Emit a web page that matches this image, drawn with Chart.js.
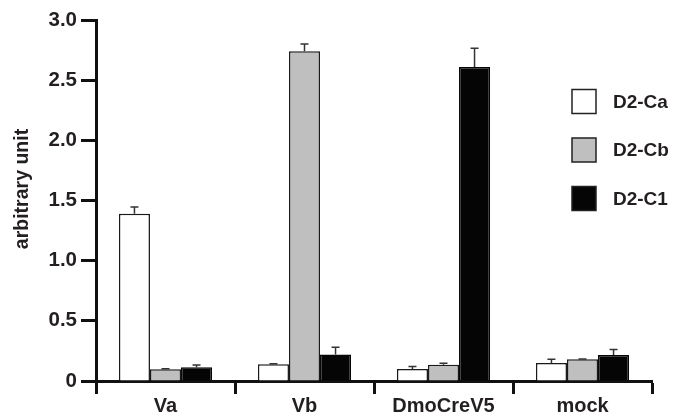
<!DOCTYPE html>
<html>
<head>
<meta charset="utf-8">
<script src="https://cdn.jsdelivr.net/npm/chart.js@4/dist/chart.umd.min.js"></script>
<style>
  html, body { margin: 0; padding: 0; background: #ffffff; }
  #wrap { width: 674px; height: 415px; position: relative; }
</style>
</head>
<body>
<div id="wrap"><canvas id="c" width="674" height="415"></canvas></div>
<script>
const categories = ['Va', 'Vb', 'DmoCreV5', 'mock'];
const seriesNames = ['D2-Ca', 'D2-Cb', 'D2-C1'];
const d2Ca = [1.39, 0.14, 0.10, 0.15];
const d2Cb = [0.097, 2.74, 0.135, 0.18];
const d2C1 = [0.114, 0.22, 2.61, 0.216];
const d2CaErr = [0.055, 0.003, 0.02, 0.03];
const d2CbErr = [0.005, 0.06, 0.012, 0.003];
const d2C1Err = [0.018, 0.06, 0.155, 0.045];
const yTickValues = [0, 0.5, 1.0, 1.5, 2.0, 2.5, 3.0];
const yTickLabels = ['0', '0.5', '1.0', '1.5', '2.0', '2.5', '3.0'];
const yTitle = 'arbitrary unit';

const FONT = '"Liberation Sans", Arial, Helvetica, sans-serif';
const TXT = '#231f20';

const errorBars = {
  id: 'errorBars',
  afterDatasetsDraw(chart) {
    const ctx = chart.ctx;
    const y = chart.scales.y;
    chart.data.datasets.forEach((ds, di) => {
      const meta = chart.getDatasetMeta(di);
      meta.data.forEach((bar, i) => {
        const top = y.getPixelForValue(ds.data[i] + ds.errors[i]);
        const base = bar.y;
        ctx.save();
        ctx.strokeStyle = '#333';
        ctx.lineWidth = 1.5;
        ctx.beginPath();
        ctx.moveTo(bar.x, base);
        ctx.lineTo(bar.x, top);
        ctx.moveTo(bar.x - 4, top);
        ctx.lineTo(bar.x + 4, top);
        ctx.stroke();
        ctx.restore();
      });
    });
  }
};

const customLegend = {
  id: 'customLegend',
  afterDraw(chart) {
    const ctx = chart.ctx;
    ctx.save();
    const x0 = 572, y0 = 89.5, size = 24, step = 48.5;
    chart.data.datasets.forEach((ds, i) => {
      const yy = y0 + i * step;
      ctx.fillStyle = ds.backgroundColor;
      ctx.fillRect(x0, yy, size, size);
      ctx.strokeStyle = '#222';
      ctx.lineWidth = 1.5;
      ctx.strokeRect(x0, yy, size, size);
      ctx.fillStyle = TXT;
      ctx.font = 'bold 19px ' + FONT;
      ctx.textBaseline = 'middle';
      ctx.textAlign = 'left';
      ctx.fillText(ds.label, 613, yy + size / 2 + 1);
    });
    // y axis title
    ctx.translate(23, 189);
    ctx.rotate(-Math.PI / 2);
    ctx.font = 'bold 19.5px ' + FONT;
    ctx.textAlign = 'center';
    ctx.textBaseline = 'middle';
    ctx.fillStyle = TXT;
    ctx.fillText(yTitle, 0, 0);
    ctx.restore();
  }
};

new Chart(document.getElementById('c'), {
  type: 'bar',
  data: {
    labels: categories,
    datasets: [
      { label: seriesNames[0], data: d2Ca, errors: d2CaErr, backgroundColor: '#ffffff', borderColor: '#1a1a1a', borderWidth: 1.5 },
      { label: seriesNames[1], data: d2Cb, errors: d2CbErr, backgroundColor: '#bfbfbf', borderColor: '#1a1a1a', borderWidth: 1.5 },
      { label: seriesNames[2], data: d2C1, errors: d2C1Err, backgroundColor: '#050505', borderColor: '#050505', borderWidth: 1.5 }
    ]
  },
  options: {
    responsive: false,
    animation: false,
    devicePixelRatio: 1,
    layout: { padding: { top: 20, right: 22, bottom: 0, left: 0 } },
    datasets: { bar: { categoryPercentage: 0.67, barPercentage: 1.0 } },
    plugins: { legend: { display: false }, tooltip: { enabled: false } },
    scales: {
      x: {
        offset: true,
        grid: { display: true, offset: true, drawOnChartArea: false, drawTicks: true, tickLength: 13, tickWidth: 3, tickColor: '#111' },
        border: { display: true, width: 3, color: '#111' },
        ticks: { color: TXT, font: { family: FONT, size: 20, weight: 'bold' }, padding: 0, maxRotation: 0 },
        afterFit(scale) { scale.height = 34; }
      },
      y: {
        min: 0, max: 3,
        afterBuildTicks(scale) { scale.ticks = yTickValues.map(v => ({ value: v })); },
        grid: { display: true, drawOnChartArea: false, drawTicks: true, tickLength: 15, tickWidth: 3, tickColor: '#111' },
        border: { display: true, width: 3, color: '#111' },
        ticks: {
          color: TXT, padding: 4,
          font: { family: FONT, size: 20.5, weight: 'bold' },
          callback(value) { const k = yTickValues.indexOf(value); return k >= 0 ? yTickLabels[k] : ''; }
        },
        afterFit(scale) { scale.width = 96; }
      }
    }
  },
  plugins: [errorBars, customLegend]
});
</script>
</body>
</html>
